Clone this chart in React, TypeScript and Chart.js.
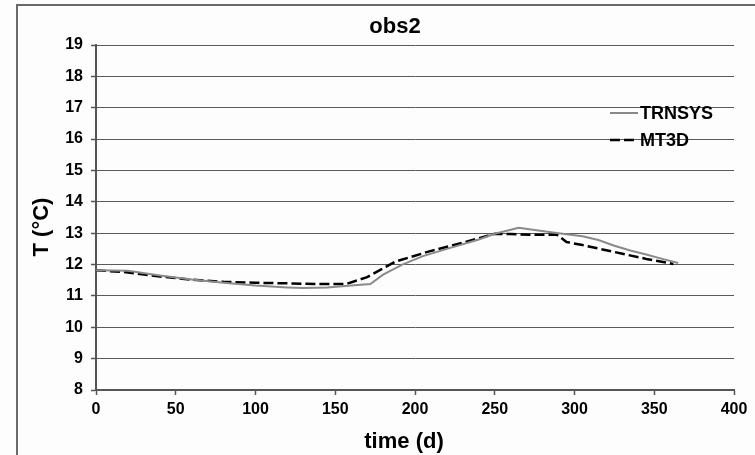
import React, { useEffect, useRef } from "react";
import { Chart, registerables } from "chart.js";

Chart.register(...registerables);

const chartTitle = "obs2";
const xAxisTitle = "time (d)";
const yAxisTitle = "T (°C)";
const seriesNames = ["TRNSYS", "MT3D"];
const xTicks = [0, 50, 100, 150, 200, 250, 300, 350, 400];
const yTicks = [8, 9, 10, 11, 12, 13, 14, 15, 16, 17, 18, 19];

const trnsysDays = [0, 20, 40, 60, 80, 100, 120, 130, 145, 160, 172, 180, 192, 205, 220, 240, 250, 265, 275, 290, 305, 315, 325, 335, 345, 355, 365];
const trnsysTemps = [11.82, 11.8, 11.65, 11.52, 11.42, 11.33, 11.27, 11.25, 11.27, 11.33, 11.38, 11.68, 12.0, 12.27, 12.5, 12.8, 12.98, 13.17, 13.1, 13.0, 12.9, 12.78, 12.6, 12.45, 12.32, 12.18, 12.05];

const mt3dDays = [0, 20, 40, 60, 80, 100, 120, 140, 157, 170, 188, 209, 230, 250, 260, 275, 289, 295, 305, 325, 345, 362];
const mt3dTemps = [11.82, 11.75, 11.62, 11.52, 11.45, 11.42, 11.4, 11.38, 11.38, 11.6, 12.1, 12.42, 12.7, 12.98, 12.97, 12.95, 12.95, 12.72, 12.62, 12.4, 12.18, 12.02];

const FONT = "'Liberation Sans', Arial, sans-serif";

const decorPlugin = {
  id: "decor",
  beforeDraw(chart: any) {
    const ctx = chart.ctx;
    ctx.save();
    ctx.fillStyle = "#fdfdfd";
    ctx.fillRect(0, 0, chart.width, chart.height);
    ctx.strokeStyle = "#6a6a6a";
    ctx.lineWidth = 2;
    ctx.beginPath();
    ctx.moveTo(17, chart.height + 5);
    ctx.lineTo(17, 5);
    ctx.lineTo(chart.width + 5, 5);
    ctx.stroke();
    ctx.restore();
  },
  afterDraw(chart: any) {
    const ctx = chart.ctx;
    ctx.save();
    ctx.fillStyle = "#000";
    ctx.textAlign = "center";
    ctx.textBaseline = "alphabetic";
    ctx.font = `bold 22px ${FONT}`;
    ctx.fillText(chartTitle, 395, 33);
    ctx.fillText(xAxisTitle, 404, 448);
    ctx.save();
    ctx.translate(48, 227);
    ctx.rotate(-Math.PI / 2);
    ctx.fillText(yAxisTitle, 0, 0);
    ctx.restore();

    // legend
    const items = chart.data.datasets;
    const rows = [113, 140];
    ctx.font = `bold 18px ${FONT}`;
    ctx.textAlign = "left";
    ctx.textBaseline = "middle";
    items.forEach((ds: any, i: number) => {
      const y = rows[i];
      ctx.save();
      ctx.strokeStyle = ds.borderColor;
      ctx.lineWidth = ds.borderWidth;
      ctx.setLineDash(ds.borderDash || []);
      ctx.beginPath();
      ctx.moveTo(610, y);
      ctx.lineTo(638, y);
      ctx.stroke();
      ctx.restore();
      ctx.fillStyle = "#000";
      ctx.fillText(ds.label, 640, y + 1);
    });
    ctx.restore();
  },
};

export default function App() {
  const ref = useRef<HTMLCanvasElement | null>(null);
  useEffect(() => {
    if (!ref.current) return;
    const chart = new Chart(ref.current, {
      type: "line",
      data: {
        datasets: [
          {
            label: seriesNames[0],
            data: trnsysDays.map((d, i) => ({ x: d, y: trnsysTemps[i] })),
            borderColor: "#8a8a8a",
            borderWidth: 2,
            pointRadius: 0,
            tension: 0,
            fill: false,
          },
          {
            label: seriesNames[1],
            data: mt3dDays.map((d, i) => ({ x: d, y: mt3dTemps[i] })),
            borderColor: "#000000",
            borderWidth: 2.5,
            borderDash: [10, 4],
            pointRadius: 0,
            tension: 0,
            fill: false,
          },
        ],
      },
      options: {
        responsive: false,
        animation: false,
        layout: { padding: { top: 45, right: 21, left: 0, bottom: 0 } },
        plugins: {
          legend: { display: false },
          title: { display: false },
          tooltip: { enabled: false },
        },
        scales: {
          x: {
            type: "linear",
            min: 0,
            max: 400,
            afterFit: (s: any) => {
              s.height = 65;
            },
            afterBuildTicks: (s: any) => {
              s.ticks = xTicks.map((v) => ({ value: v }));
            },
            ticks: {
              color: "#000",
              font: { family: FONT, size: 16, weight: "bold" },
              padding: 5,
              maxRotation: 0,
            },
            grid: {
              drawOnChartArea: false,
              drawTicks: true,
              tickLength: 5,
              tickColor: "#555",
              tickWidth: 1.5,
            },
            border: { display: true, color: "#555", width: 2 },
          },
          y: {
            type: "linear",
            min: 8,
            max: 19,
            afterFit: (s: any) => {
              s.width = 96;
            },
            afterBuildTicks: (s: any) => {
              s.ticks = yTicks.map((v) => ({ value: v }));
            },
            ticks: {
              color: "#000",
              font: { family: FONT, size: 16, weight: "bold" },
              padding: 8,
            },
            grid: {
              color: "#5a5a5a",
              lineWidth: 1,
              borderDash: [1, 1],
              drawTicks: true,
              tickLength: 5,
              tickColor: "#555",
              tickWidth: 1.5,
              tickBorderDash: [],
            },
            border: { display: true, color: "#555", width: 2 },
          },
        },
      },
      plugins: [decorPlugin],
    } as any);
    return () => chart.destroy();
  }, []);
  return (
    <div style={{ position: "absolute", left: 0, top: 0, width: 755, height: 455 }}>
      <canvas ref={ref} width={755} height={455} style={{ display: "block" }} />
    </div>
  );
}
